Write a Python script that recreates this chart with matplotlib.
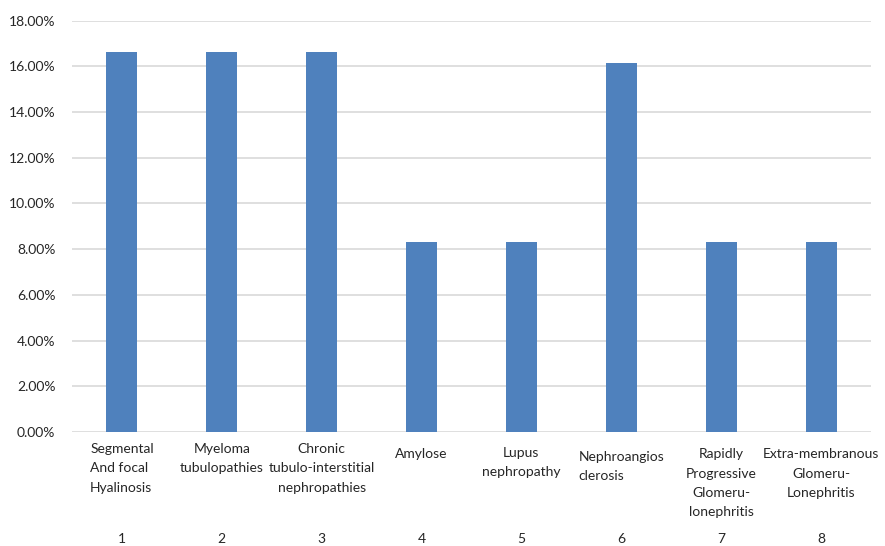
import matplotlib
matplotlib.use('Agg')
import matplotlib.pyplot as plt
import matplotlib.transforms as mtransforms
from matplotlib.ticker import PercentFormatter

categories = ['Segmental\nAnd focal\nHyalinosis', 'Myeloma\ntubulopathies',
              'Chronic\ntubulo-interstitial\nnephropathies', 'Amylose',
              'Lupus\nnephropathy', 'Nephroangios\nclerosis',
              'Rapidly\nProgressive\nGlomeru-\nlonephritis',
              'Extra-membranous\nGlomeru-\nLonephritis']
numbers = ['1', '2', '3', '4', '5', '6', '7', '8']
values = [0.1662, 0.1662, 0.1662, 0.0830, 0.0830, 0.1615, 0.0830, 0.0830]

plt.rcParams['font.family'] = ['Lato', 'DejaVu Sans']

fig = plt.figure(figsize=(8.85, 5.46), dpi=100)
ax = fig.add_axes([72 / 885, 1 - 432 / 546, 799 / 885, 411.5 / 546])

x = range(len(values))
ax.bar(x, values, width=0.31, color='#4f81bd', zorder=3)

ax.set_xlim(-0.5, len(values) - 0.5)
ax.set_ylim(0, 0.18)
ax.set_yticks([i * 0.02 for i in range(10)])
ax.yaxis.set_major_formatter(PercentFormatter(1.0, decimals=2))
ax.grid(axis='y', color='#d9d9d9', linewidth=1.2, zorder=0)
for s in ax.spines.values():
    s.set_visible(False)
ax.tick_params(axis='y', length=0, labelsize=10, labelcolor='#262626', pad=12)
ax.set_xticks([])

# multi-level category axis: names, then the index row
trans = mtransforms.blended_transform_factory(ax.transData, fig.transFigure)
first_line = [451, 451, 451, 456, 455, 459, 456, 456]
align = ['left', 'center', 'center', 'center', 'center', 'left', 'center', 'center']
for i, (lab, num) in enumerate(zip(categories, numbers)):
    ytop = 1 - (first_line[i] - 8) / 546
    ax.text(i, ytop, lab, transform=trans, ha='center', va='top',
            multialignment=align[i], fontsize=10, color='#262626',
            linespacing=1.75)
    ax.text(i, 1 - 539 / 546, num, transform=trans, ha='center',
            va='center', fontsize=10, color='#262626')

fig.savefig('out.png', dpi=100)
